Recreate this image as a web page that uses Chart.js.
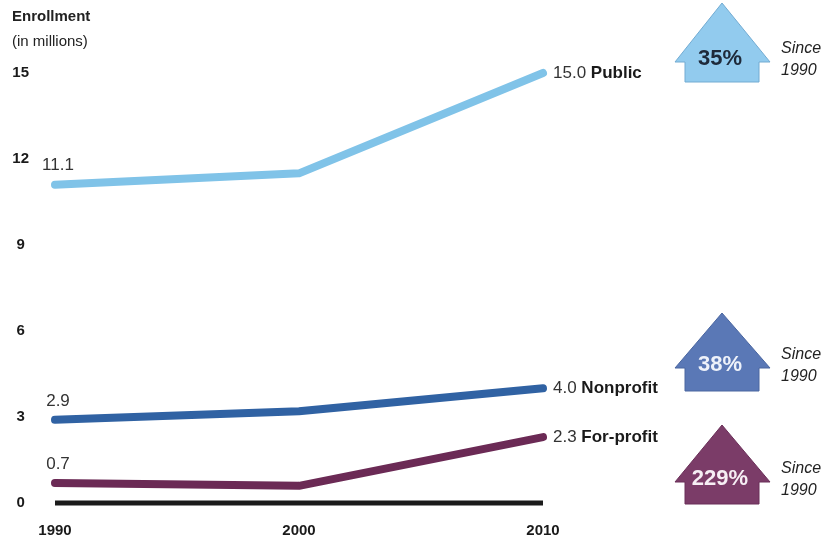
<!DOCTYPE html>
<html><head><meta charset="utf-8">
<script src="https://cdn.jsdelivr.net/npm/chart.js@4.4.1/dist/chart.umd.min.js"></script>
<style>
html,body{margin:0;padding:0;background:#fff;}
#wrap{position:relative;width:830px;height:542px;}
</style></head>
<body><div id="wrap"><canvas id="c" width="830" height="542"></canvas></div>
<script>
const years = [1990, 2000, 2010];
const publicVals = [11.1, 11.5, 15.0];
const nonprofitVals = [2.9, 3.2, 4.0];
const forprofitVals = [0.7, 0.6, 2.3];
const baselineVals = [0, 0, 0];
const yTicks = [0, 3, 6, 9, 12, 15];
const seriesNames = ['Public', 'Nonprofit', 'For-profit'];
const growthLabels = ['35%', '38%', '229%'];
const sinceLabel = ['Since', '1990'];

const FN = '"Liberation Sans Narrow", "Liberation Sans", Arial, sans-serif';
const colors = {pub:'#80c3e8', non:'#3062a3', fp:'#6b2a55'};

const annot = {
  id: 'annot',
  afterDatasetsDraw(chart) {
    const ctx = chart.ctx;
    const xs = chart.scales.x, ys = chart.scales.y;
    ctx.save();
    ctx.fillStyle = '#222';
    ctx.textBaseline = 'middle';
    ctx.textAlign = 'left';
    ctx.font = 'bold 15px ' + FN;
    ctx.fillText('Enrollment', 12, 17);
    ctx.font = '15px ' + FN;
    ctx.fillText('(in millions)', 12, 42);

    const sets = [publicVals, nonprofitVals, forprofitVals];
    ctx.font = '17px ' + FN;
    ctx.textAlign = 'center';
    ctx.fillStyle = '#333';
    sets.forEach(v => {
      ctx.fillText(v[0].toFixed(1), xs.getPixelForValue(years[0]) + 3, ys.getPixelForValue(v[0]) - 19);
    });
    sets.forEach((v, i) => {
      const x = xs.getPixelForValue(years[2]) + 10;
      const y = ys.getPixelForValue(v[2]);
      ctx.textAlign = 'left';
      ctx.font = '17px ' + FN;
      ctx.fillStyle = '#333';
      const s = v[2].toFixed(1) + ' ';
      ctx.fillText(s, x, y);
      const w = ctx.measureText(s).width;
      ctx.font = 'bold 17px ' + FN;
      ctx.fillStyle = '#1a1a1a';
      ctx.fillText(seriesNames[i], x + w, y);
    });

    const arrows = [
      {top:3, eave:62, bot:82, fill:'#92cbee', stroke:'#72abd2', txt:'#1e2a3a'},
      {top:313, eave:368, bot:391, fill:'#5a78b6', stroke:'#4a66a0', txt:'#eef2fa'},
      {top:425, eave:482, bot:504, fill:'#7b3c68', stroke:'#6a2f58', txt:'#f6eef4'}
    ];
    arrows.forEach((a, i) => {
      const cx = 722, rl = 675, rr = 770, bl = 685, br = 759;
      ctx.beginPath();
      ctx.moveTo(cx, a.top);
      ctx.lineTo(rr, a.eave);
      ctx.lineTo(br, a.eave);
      ctx.lineTo(br, a.bot);
      ctx.lineTo(bl, a.bot);
      ctx.lineTo(bl, a.eave);
      ctx.lineTo(rl, a.eave);
      ctx.closePath();
      ctx.fillStyle = a.fill;
      ctx.fill();
      ctx.lineWidth = 1;
      ctx.strokeStyle = a.stroke;
      ctx.stroke();
      ctx.fillStyle = a.txt;
      ctx.font = 'bold 22px ' + FN;
      ctx.textAlign = 'center';
      ctx.fillText(growthLabels[i], 720, a.eave - 3);
      ctx.fillStyle = '#222';
      ctx.font = 'italic 16px ' + FN;
      ctx.textAlign = 'left';
      ctx.fillText(sinceLabel[0], 781, a.eave - 13);
      ctx.fillText(sinceLabel[1], 781, a.eave + 9);
    });
    ctx.restore();
  }
};

const mk = (data) => years.map((y, i) => ({x: y, y: data[i]}));

new Chart(document.getElementById('c'), {
  type: 'line',
  data: {
    datasets: [
      {data: mk(baselineVals), borderColor: '#1b1b1b', borderWidth: 5, borderCapStyle: 'butt', pointRadius: 0, clip: false, order: 4},
      {data: mk(forprofitVals), borderColor: colors.fp, borderWidth: 8, borderCapStyle: 'round', borderJoinStyle: 'round', pointRadius: 0, clip: false, order: 3},
      {data: mk(nonprofitVals), borderColor: colors.non, borderWidth: 8, borderCapStyle: 'round', borderJoinStyle: 'round', pointRadius: 0, clip: false, order: 2},
      {data: mk(publicVals), borderColor: colors.pub, borderWidth: 8, borderCapStyle: 'round', borderJoinStyle: 'round', pointRadius: 0, clip: false, order: 1}
    ]
  },
  options: {
    responsive: false,
    animation: false,
    events: [],
    layout: {padding: {top: 73, right: 287, left: 0, bottom: 0}},
    plugins: {legend: {display: false}, tooltip: {enabled: false}},
    scales: {
      x: {
        type: 'linear', min: 1990, max: 2010,
        grid: {display: false, drawTicks: false},
        border: {display: false},
        afterBuildTicks: (s) => { s.ticks = years.map(v => ({value: v})); },
        afterFit: (s) => { s.height = 39; },
        ticks: {padding: 19, color: '#1a1a1a', font: {family: FN, size: 15, weight: 'bold'}, callback: (v) => String(v), maxRotation: 0}
      },
      y: {
        min: 0, max: 15,
        grid: {display: false, drawTicks: false},
        border: {display: false},
        afterBuildTicks: (s) => { s.ticks = yTicks.map(v => ({value: v})); },
        afterFit: (s) => { s.width = 55; },
        ticks: {padding: 26, crossAlign: 'center', color: '#1a1a1a', font: {family: FN, size: 15, weight: 'bold'}}
      }
    }
  },
  plugins: [annot]
});
</script></body></html>
